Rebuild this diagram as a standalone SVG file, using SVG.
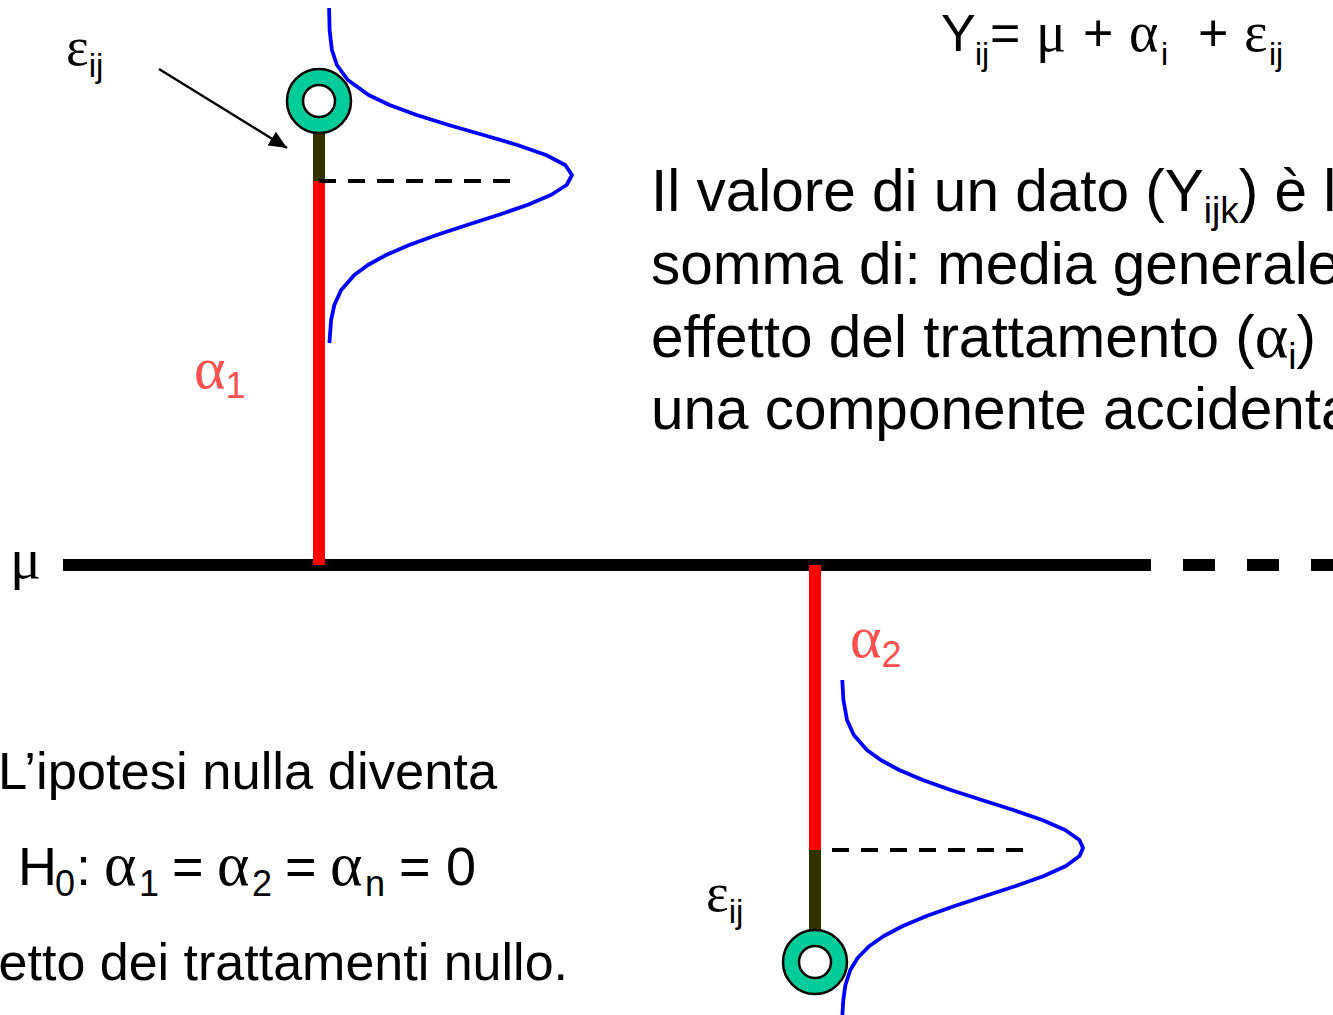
<svg xmlns="http://www.w3.org/2000/svg" width="1333" height="1015" viewBox="0 0 1333 1015">
<defs>
<marker id="ah" markerUnits="userSpaceOnUse" markerWidth="20" markerHeight="16" refX="18" refY="8" orient="auto"><path d="M0,0 L18,8 L0,16 Z" fill="#000"/></marker>
<style>
.t{font-family:"Liberation Sans",Arial,sans-serif;fill:#000}
.g{font-family:"Liberation Serif","Times New Roman",serif}
.red{fill:#FF4F4F}
.ring{fill:#00CC99;stroke:#000;stroke-width:2.5}
.hole{fill:#fff;stroke:#000;stroke-width:2.5}
.curve{fill:none;stroke:#0000FF;stroke-width:3.8;stroke-linejoin:round}
.dash{stroke:#000;stroke-width:4;stroke-dasharray:17 12}
</style>
</defs>
<rect width="1333" height="1015" fill="#fff"/>

<g id="axis">
<line x1="63" y1="565" x2="1151" y2="565" stroke="#000" stroke-width="12"/>
<line x1="1183" y1="565" x2="1333" y2="565" stroke="#000" stroke-width="12" stroke-dasharray="32 32"/>
<text class="t g" x="10" y="578" font-size="58">μ</text>
</g>

<g id="group1">
<rect x="313" y="181" width="12" height="384" fill="#FF0000"/>
<rect x="313" y="130" width="12" height="51" fill="#333300"/>
<line class="dash" x1="319" y1="181" x2="512" y2="181"/>
<circle class="ring" cx="319" cy="101" r="32"/>
<circle class="hole" cx="319" cy="101" r="16"/>
<polyline class="curve" points="329.1,8 329.6,30 331.9,50 336.9,65 347.8,80 368.6,95 389.6,105 416.6,115 448.6,125 483.4,135 517.3,145 546,155 565.2,165 572,175 566.6,185 550.9,195 527.3,205 498.2,215 467,225 436.6,235 409.2,245 386.1,255 367.9,265 354.3,275 341.2,290 334.3,305 331.1,320 329.4,343"/>
<text class="red g" x="194" y="388" font-size="60">α<tspan class="t red" font-size="36" dy="10">1</tspan></text>
</g>

<g id="group2">
<rect x="809" y="565" width="12" height="285" fill="#FF0000"/>
<rect x="809" y="850" width="12" height="82" fill="#333300"/>
<line class="dash" x1="832" y1="850" x2="1024" y2="850"/>
<circle class="ring" cx="815" cy="962" r="32"/>
<circle class="hole" cx="815" cy="962" r="16"/>
<polyline class="curve" points="842.3,680 843.4,700 847,720 853.8,735 866.9,750 880.7,760 899.2,770 922.8,780 950.8,790 981.8,800 1013.3,810 1042.3,820 1065.2,830 1079.4,840 1083,848 1079.5,856 1065.9,866 1043.8,876 1015.8,886 985.1,896 954.6,906 926.6,916 902.8,926 883.8,936 869.4,946 857.6,958 850.3,970 845.4,985 843.3,1000 842.4,1015"/>
<text class="red g" x="850" y="657" font-size="60">α<tspan class="t red" font-size="36" dy="10">2</tspan></text>
</g>

<g id="eps1">
<text class="t g" x="66" y="65" font-size="54">ε<tspan class="t" font-size="33" dy="12">ij</tspan></text>
</g>
<g id="eps2">
<text class="t g" x="706" y="911" font-size="54">ε<tspan class="t" font-size="33" dy="12">ij</tspan></text>
</g>

<g id="connectors">
<line x1="159" y1="69" x2="287" y2="148" stroke="#000" stroke-width="2.5" marker-end="url(#ah)"/>
</g>

<g id="equation">
<text class="t" font-size="52"><tspan x="941" y="51">Y</tspan><tspan x="975" y="65" font-size="32">ij</tspan><tspan x="990" y="51">=</tspan><tspan class="g" x="1036" y="51" font-size="56">μ</tspan><tspan x="1083" y="51">+</tspan><tspan class="g" x="1129" y="51" font-size="56">α</tspan><tspan x="1161" y="65" font-size="32">i</tspan><tspan x="1198" y="51">+</tspan><tspan class="g" x="1244" y="51" font-size="56">ε</tspan><tspan x="1269" y="65" font-size="32">ij</tspan></text>
</g>

<g id="description">
<text class="t" font-size="58.5" x="651" y="211">Il valore di un dato (Y<tspan font-size="37" dy="12">ijk</tspan><tspan dy="-12">) è l</tspan></text>
<text class="t" font-size="58.5" x="651" y="284">somma di: media generale</text>
<text class="t" font-size="58.5" x="651" y="357">effetto del trattamento (<tspan class="g" font-size="64">α</tspan><tspan font-size="37" dy="12">i</tspan><tspan dy="-12">)</tspan></text>
<text class="t" font-size="58.5" x="651" y="429">una componente accidenta</text>
</g>

<g id="hypothesis">
<text class="t" font-size="52.5" x="-2" y="789">L’ipotesi nulla diventa</text>
<text class="t" font-size="54"><tspan x="18" y="885">H</tspan><tspan x="55" y="896" font-size="36">0</tspan><tspan x="76" y="885">:</tspan><tspan class="g" x="104" y="885" font-size="62">α</tspan><tspan x="139" y="896" font-size="36">1</tspan><tspan x="172" y="885">=</tspan><tspan class="g" x="217" y="885" font-size="62">α</tspan><tspan x="252" y="896" font-size="36">2</tspan><tspan x="285" y="885">=</tspan><tspan class="g" x="330" y="885" font-size="62">α</tspan><tspan x="365" y="896" font-size="36">n</tspan><tspan x="399" y="885">=</tspan><tspan x="446" y="885">0</tspan></text>
<text class="t" font-size="52" x="568" y="980" text-anchor="end">etto dei trattamenti nullo.</text>
</g>
</svg>
